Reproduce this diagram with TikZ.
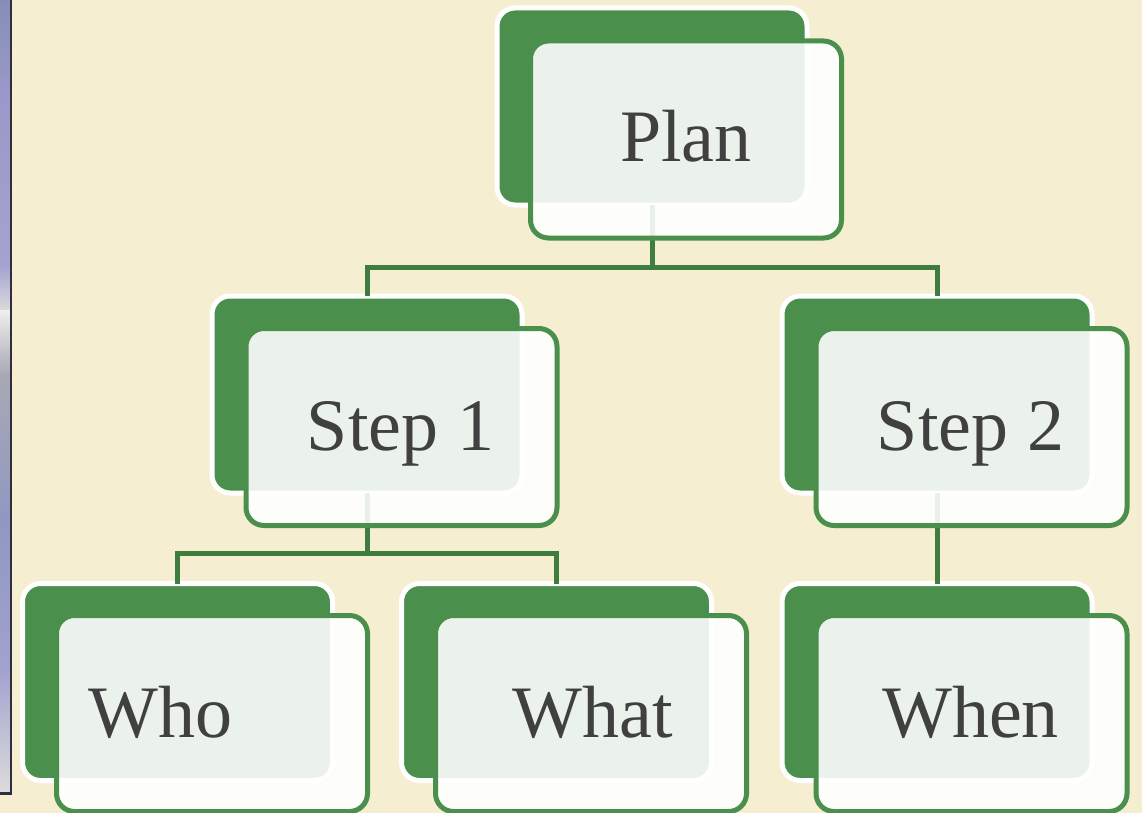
\documentclass[tikz,border=0pt]{standalone}
\usepackage{fontspec}
\setmainfont{Liberation Serif}
\definecolor{paper}{HTML}{F5EED1}
\definecolor{leaf}{HTML}{4A8F4C}
\definecolor{stem}{HTML}{3E7C40}
\definecolor{ink}{HTML}{404040}
% colours of the window edge on the left
\definecolor{ea}{HTML}{868EB8}
\definecolor{eb}{HTML}{9A98C8}
\definecolor{ec}{HTML}{A4A2D0}
\definecolor{ed}{HTML}{DADADE}
\definecolor{ee}{HTML}{EFEFEF}
\definecolor{ef}{HTML}{A8A8B4}
\definecolor{eg}{HTML}{9098C2}
\definecolor{eh}{HTML}{A2A2CE}
\definecolor{ei}{HTML}{DCDCDC}
\definecolor{edark}{HTML}{2E2E3C}
\begin{document}
\begin{tikzpicture}[x=1pt,y=-1pt,
  backbox/.style={rounded corners=18pt, fill=leaf, draw=white, line width=5pt,
    minimum width=310pt, minimum height=197pt, inner sep=0pt},
  frontbox/.style={rounded corners=18pt, fill=white, fill opacity=0.89,
    draw=leaf, draw opacity=1, line width=5pt,
    minimum width=311pt, minimum height=197pt, inner sep=0pt},
  word/.style={font=\fontsize{74}{80}\selectfont, text=ink, inner sep=0pt},
  conn/.style={draw=stem, line width=5pt, line cap=rect}]

% page
\fill[paper] (0,0) rectangle (1142,813);
\useasboundingbox (0,0) rectangle (1142,813);

% window edge strip
\foreach \ya/\yb/\ca/\cb in {0/90/ea/eb, 90/265/eb/ec, 265/310/ec/ed,
    310/375/ee/ef, 375/520/ef/eg, 520/670/eg/eh, 670/793/eh/ei}
  \shade[top color=\ca, bottom color=\cb] (0,\ya) rectangle (11,\yb);
\fill[edark] (10,0) rectangle (12,795);
\fill[edark] (0,792) rectangle (12,795);

% junction points of the tree
\coordinate (j1) at (652,267);
\coordinate (j2) at (367,553);

% back cards
\node[backbox] (planB)  at (652,106.5) {};
\node[backbox] (step1B) at (367,394.5) {};
\node[backbox] (step2B) at (937,394.5) {};
\node[backbox] (whoB)   at (177.5,682) {};
\node[backbox] (whatB)  at (556.5,682) {};
\node[backbox] (whenB)  at (937,682) {};

% connectors
\draw[conn] (planB.south) -- (planB.south |- j1);
\draw[conn] (step1B.north) |- (j1) -| (step2B.north);
\draw[conn] (step1B.south) -- (step1B.south |- j2);
\draw[conn] (whoB.north) |- (j2) -| (whatB.north);
\draw[conn] (step2B.south) -- (whenB.north);

% front cards
\node[frontbox] (plan)  at (686,139.5) {};
\node[frontbox] (step1) at (401.5,427) {};
\node[frontbox] (step2) at (971.5,427) {};
\node[frontbox, minimum height=196pt] (who)  at (212,713.5) {};
\node[frontbox, minimum height=196pt] (what) at (591,713.5) {};
\node[frontbox, minimum height=196pt] (when) at (971.5,713.5) {};

% labels
\node[word, anchor=base]      (planT)  at (686,162)   {Plan};
\node[word, anchor=base]      (step1T) at (400.5,450) {Step 1};
\node[word, anchor=base]      (step2T) at (970.5,450) {Step 2};
\node[word, anchor=base west] (whoT)   at (88,737)    {Who};
\node[word, anchor=base]      (whatT)  at (592.5,737) {What};
\node[word, anchor=base]      (whenT)  at (970.5,737) {When};
\end{tikzpicture}
\end{document}
